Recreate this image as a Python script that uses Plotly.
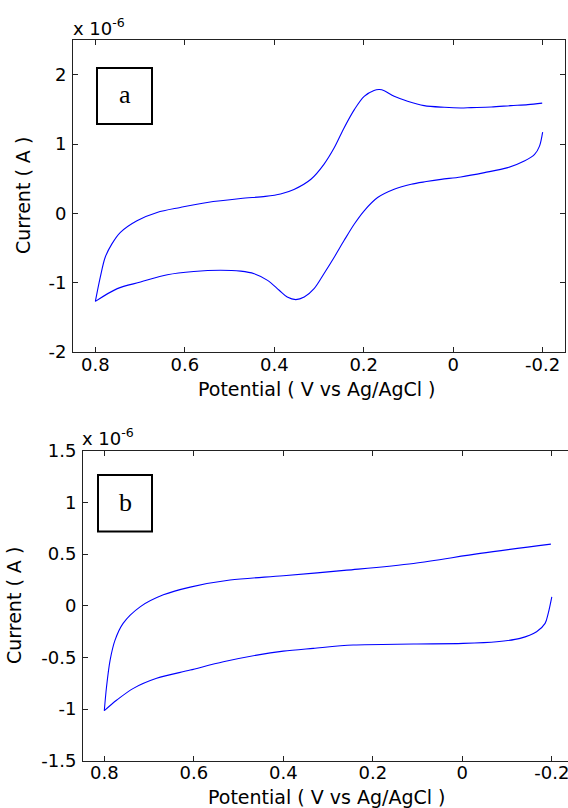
import plotly.graph_objects as go

# ---- data (current in units of 1e-6 A) ----
a_fwd_v = [0.800, 0.789, 0.778, 0.763, 0.744, 0.707, 0.662, 0.610, 0.550, 0.475, 0.420, 0.386, 0.356,
           0.318, 0.289, 0.266, 0.244, 0.221, 0.199, 0.177, 0.165, 0.154, 0.132, 0.102, 0.065,
           0.020, -0.017, -0.040, -0.085, -0.129, -0.167, -0.199]
a_fwd_i = [-1.27, -0.92, -0.633, -0.44, -0.274, -0.106, 0.013, 0.085, 0.157, 0.214, 0.245, 0.280, 0.345,
           0.492, 0.707, 0.945, 1.232, 1.496, 1.687, 1.773, 1.785, 1.769, 1.687, 1.616, 1.553,
           1.529, 1.52, 1.525, 1.534, 1.553, 1.568, 1.59]
a_rev_v = [-0.200, -0.193, -0.182, -0.159, -0.122, -0.070, -0.017, 0.027, 0.060, 0.094, 0.132, 0.169,
           0.199, 0.221, 0.244, 0.266, 0.289, 0.311, 0.333, 0.352, 0.371, 0.389, 0.415, 0.445,
           0.475, 0.520, 0.580, 0.639, 0.699, 0.751, 0.800]
a_rev_i = [1.171, 0.970, 0.851, 0.755, 0.659, 0.587, 0.525, 0.490, 0.458, 0.420, 0.348, 0.228,
           0.037, -0.154, -0.393, -0.633, -0.871, -1.086, -1.207, -1.244, -1.207, -1.110, -0.967, -0.871,
           -0.834, -0.820, -0.838, -0.885, -0.991, -1.086, -1.27]

b_fwd_v = [0.800, 0.795, 0.787, 0.776, 0.758, 0.720, 0.668, 0.608, 0.519, 0.400, 0.258, 0.109, -0.040, -0.198]
b_fwd_i = [-1.016, -0.784, -0.526, -0.333, -0.171, -0.011, 0.105, 0.180, 0.248, 0.29, 0.344, 0.409, 0.506, 0.596]
b_rev_v = [-0.200, -0.192, -0.185, -0.166, -0.129, -0.077, -0.002, 0.109, 0.244, 0.333, 0.400, 0.459,
           0.534, 0.608, 0.683, 0.735, 0.772, 0.800]
b_rev_i = [0.086, -0.074, -0.171, -0.252, -0.316, -0.349, -0.365, -0.371, -0.381, -0.413, -0.44, -0.478,
           -0.543, -0.623, -0.703, -0.80, -0.913, -1.016]

x_ticks = [0.8, 0.6, 0.4, 0.2, 0, -0.2]
x_ticktext = ["0.8", "0.6", "0.4", "0.2", "0", "-0.2"]
a_y_ticks = [-2, -1, 0, 1, 2]
a_y_ticktext = ["-2", "-1", "0", "1", "2"]
b_y_ticks = [-1.5, -1, -0.5, 0, 0.5, 1, 1.5]
b_y_ticktext = ["-1.5", "-1", "-0.5", "0", "0.5", "1", "1.5"]

W, H = 568, 808
FONT = "DejaVu Sans, Liberation Sans, Arial"
BLUE = "#0000ff"


def px(x):
    return x / W


def py(y):
    return 1 - y / H


fig = go.Figure()
line = dict(color=BLUE, width=1.1, shape="spline", smoothing=0.9)
fig.add_trace(go.Scatter(x=a_fwd_v, y=a_fwd_i, mode="lines", line=line, xaxis="x", yaxis="y", showlegend=False))
fig.add_trace(go.Scatter(x=a_rev_v, y=a_rev_i, mode="lines", line=line, xaxis="x", yaxis="y", showlegend=False))
fig.add_trace(go.Scatter(x=b_fwd_v, y=b_fwd_i, mode="lines", line=line, xaxis="x2", yaxis="y2", showlegend=False))
fig.add_trace(go.Scatter(x=b_rev_v, y=b_rev_i, mode="lines", line=line, xaxis="x2", yaxis="y2", showlegend=False))

axis_common = dict(showgrid=False, zeroline=False, showline=True, linecolor="#222", linewidth=1,
                   ticks="inside", ticklen=5, tickcolor="#222", automargin=False,
                   ticklabeloverflow="allow",
                   tickfont=dict(family=FONT, size=18, color="black"))

fig.update_layout(
    width=W, height=H, margin=dict(l=0, r=0, t=0, b=0, autoexpand=False),
    paper_bgcolor="white", plot_bgcolor="white",
    font=dict(family=FONT, color="black"),
    xaxis=dict(domain=[px(73), px(565)], range=[0.85, -0.25], tickvals=x_ticks, ticktext=x_ticktext,
               anchor="y", mirror="ticks", ticklabelstandoff=-4, **axis_common),
    yaxis=dict(domain=[py(352), py(40)], range=[-2, 2.5], tickvals=a_y_ticks, ticktext=a_y_ticktext,
               anchor="x", mirror="ticks", ticklabelstandoff=2, **axis_common),
    xaxis2=dict(domain=[px(83), 1], range=[0.8476, -0.2362], tickvals=x_ticks, ticktext=x_ticktext,
                anchor="y2", mirror="ticks", ticklabelstandoff=-4, **axis_common),
    yaxis2=dict(domain=[py(760.7), py(450.7)], range=[-1.5, 1.5], tickvals=b_y_ticks, ticktext=b_y_ticktext,
                anchor="x2", mirror=False, ticklabelstandoff=2, **axis_common),
)

annotations = []
title_font = dict(family=FONT, size=19, color="black")
# x titles
annotations.append(dict(text="Potential ( V vs Ag/AgCl )", x=px(316), y=py(389), xref="paper", yref="paper",
                        showarrow=False, font=title_font, xanchor="center", yanchor="middle"))
annotations.append(dict(text="Potential ( V vs Ag/AgCl )", x=px(326), y=py(797), xref="paper", yref="paper",
                        showarrow=False, font=title_font, xanchor="center", yanchor="middle"))
# y titles
annotations.append(dict(text="Current ( A )", x=px(23), y=py(196), xref="paper", yref="paper", textangle=-90,
                        showarrow=False, font=title_font, xanchor="center", yanchor="middle"))
annotations.append(dict(text="Current ( A )", x=px(14), y=py(606), xref="paper", yref="paper", textangle=-90,
                        showarrow=False, font=title_font, xanchor="center", yanchor="middle"))
# exponents
annotations.append(dict(text="x 10<sup>-6</sup>", x=px(71), y=py(41), xref="paper", yref="paper",
                        showarrow=False, font=dict(family=FONT, size=18, color="black"),
                        xanchor="left", yanchor="bottom"))
annotations.append(dict(text="x 10<sup>-6</sup>", x=px(80), y=py(451), xref="paper", yref="paper",
                        showarrow=False, font=dict(family=FONT, size=18, color="black"),
                        xanchor="left", yanchor="bottom"))
# panel letters
letter_font = dict(family="Liberation Serif, Times New Roman, serif", size=26, color="black")
annotations.append(dict(text="a", x=px(124.5), y=py(94), xref="paper", yref="paper", showarrow=False,
                        font=letter_font, xanchor="center", yanchor="middle"))
annotations.append(dict(text="b", x=px(125), y=py(502), xref="paper", yref="paper", showarrow=False,
                        font=letter_font, xanchor="center", yanchor="middle"))
fig.update_layout(annotations=annotations)

shapes = [
    dict(type="rect", xref="paper", yref="paper", x0=px(97), x1=px(152), y0=py(124), y1=py(68),
         line=dict(color="black", width=2), fillcolor="rgba(0,0,0,0)"),
    dict(type="rect", xref="paper", yref="paper", x0=px(98), x1=px(152), y0=py(531.5), y1=py(475),
         line=dict(color="black", width=2), fillcolor="rgba(0,0,0,0)"),
]
fig.update_layout(shapes=shapes)

fig.write_html("out.html", config={"displayModeBar": False},
               post_script="document.body.style.margin='0px';")
